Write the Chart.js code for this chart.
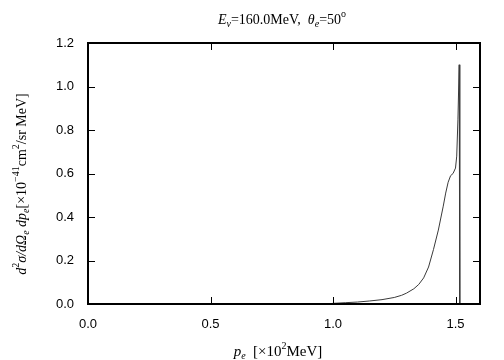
<!DOCTYPE html>
<html>
<head>
<meta charset="utf-8">
<script src="https://cdn.jsdelivr.net/npm/chart.js@4"></script>
<style>
  html, body { margin: 0; padding: 0; background: #fff; }
  #wrap { width: 504px; height: 360px; }
</style>
</head>
<body>
<div id="wrap"><canvas id="c"></canvas></div>
<script>
// electron momentum [x10^2 MeV] and cross section values
const momentum = [0.98, 1.00, 1.05, 1.10, 1.15, 1.20, 1.25, 1.28, 1.30, 1.33, 1.35, 1.37, 1.39, 1.41, 1.43, 1.45, 1.46, 1.47, 1.48, 1.49, 1.50, 1.505, 1.51, 1.515, 1.517, 1.518];
const crossSection = [0.0, 0.003, 0.006, 0.009, 0.014, 0.02, 0.03, 0.04, 0.05, 0.07, 0.09, 0.12, 0.17, 0.25, 0.34, 0.45, 0.51, 0.56, 0.59, 0.60, 0.625, 0.68, 0.85, 1.10, 0.5, 0.0];
const xTicks = [0.0, 0.5, 1.0, 1.5];
const yTicks = [0.0, 0.2, 0.4, 0.6, 0.8, 1.0, 1.2];

const serif = '"Liberation Serif", "DejaVu Serif", serif';

// draw a run of styled pieces centred on (cx, cy)
function richText(ctx, parts, cx, cy, size) {
  const fontOf = p => (p.it ? 'italic ' : '') + Math.round(p.sub || p.sup ? size * 0.72 : size) + 'px ' + serif;
  let total = 0;
  parts.forEach(p => { ctx.font = fontOf(p); total += ctx.measureText(p.t).width; });
  let x = cx - total / 2;
  ctx.textBaseline = 'middle';
  ctx.textAlign = 'left';
  parts.forEach(p => {
    ctx.font = fontOf(p);
    let dy = p.sub ? size * 0.3 : p.sup ? -size * 0.38 : 0;
    ctx.fillText(p.t, x, cy + dy);
    x += ctx.measureText(p.t).width;
  });
}

const decorations = {
  id: 'decorations',
  afterDraw(chart) {
    const ctx = chart.ctx;
    const a = chart.chartArea;
    const xs = chart.scales.x, ys = chart.scales.y;
    ctx.save();
    ctx.strokeStyle = '#000';
    ctx.lineWidth = 1;
    // inward ticks on all four sides
    ctx.beginPath();
    xTicks.forEach(v => {
      const px = Math.round(xs.getPixelForValue(v)) + 0.5;
      ctx.moveTo(px, a.bottom); ctx.lineTo(px, a.bottom - 7);
      ctx.moveTo(px, a.top); ctx.lineTo(px, a.top + 7);
    });
    yTicks.forEach(v => {
      const py = Math.round(ys.getPixelForValue(v)) + 0.5;
      ctx.moveTo(a.left, py); ctx.lineTo(a.left + 7, py);
      ctx.moveTo(a.right, py); ctx.lineTo(a.right - 7, py);
    });
    ctx.stroke();
    // frame
    ctx.lineWidth = 2;
    ctx.strokeRect(a.left, a.top, a.right - a.left, a.bottom - a.top);

    ctx.fillStyle = '#000';
    const cx = (a.left + a.right) / 2;
    richText(ctx, [
      { t: 'E', it: true }, { t: 'ν', it: true, sub: true }, { t: '=160.0MeV,  ' },
      { t: 'θ', it: true }, { t: 'e', it: true, sub: true }, { t: '=50' }, { t: 'o', sup: true }
    ], cx - 2, 20, 14);
    richText(ctx, [
      { t: 'p', it: true }, { t: 'e', it: true, sub: true }, { t: '  [×10' }, { t: '2', sup: true }, { t: 'MeV]' }
    ], cx - 6, 352, 14.5);
    ctx.translate(22, 184);
    ctx.rotate(-Math.PI / 2);
    richText(ctx, [
      { t: 'd', it: true }, { t: '2', sup: true }, { t: 'σ/dΩ', it: true }, { t: 'e', it: true, sub: true },
      { t: ' dp', it: true }, { t: 'e', it: true, sub: true }, { t: '[×10' }, { t: '−41', sup: true },
      { t: 'cm' }, { t: '2', sup: true }, { t: '/sr MeV]' }
    ], 0, 0, 14);
    ctx.restore();
  }
};

new Chart(document.getElementById('c'), {
  type: 'line',
  data: {
    datasets: [{
      data: momentum.map((x, i) => ({ x: x, y: crossSection[i] })),
      borderColor: '#3a3a3a',
      borderWidth: 1,
      pointRadius: 0,
      tension: 0,
      fill: false
    }]
  },
  options: {
    responsive: true,
    maintainAspectRatio: false,
    animation: false,
    events: [],
    layout: { padding: { left: 0, top: 43, right: 24, bottom: 0 } },
    plugins: { legend: { display: false }, tooltip: { enabled: false } },
    scales: {
      x: {
        type: 'linear', min: 0, max: 1.6,
        grid: { display: false }, border: { display: false },
        afterFit: s => { s.height = 56; },
        afterBuildTicks: s => { s.ticks = xTicks.map(v => ({ value: v })); },
        ticks: {
          padding: 5, color: '#000',
          font: { family: '"Liberation Sans", Arial, sans-serif', size: 13 },
          callback: v => v.toFixed(1)
        }
      },
      y: {
        type: 'linear', min: 0, max: 1.2,
        grid: { display: false }, border: { display: false },
        afterFit: s => { s.width = 88; },
        afterBuildTicks: s => { s.ticks = yTicks.map(v => ({ value: v })); },
        ticks: {
          padding: 6, color: '#000',
          font: { family: '"Liberation Sans", Arial, sans-serif', size: 13 },
          callback: v => v.toFixed(1)
        }
      }
    }
  },
  plugins: [decorations]
});
</script>
</body>
</html>
